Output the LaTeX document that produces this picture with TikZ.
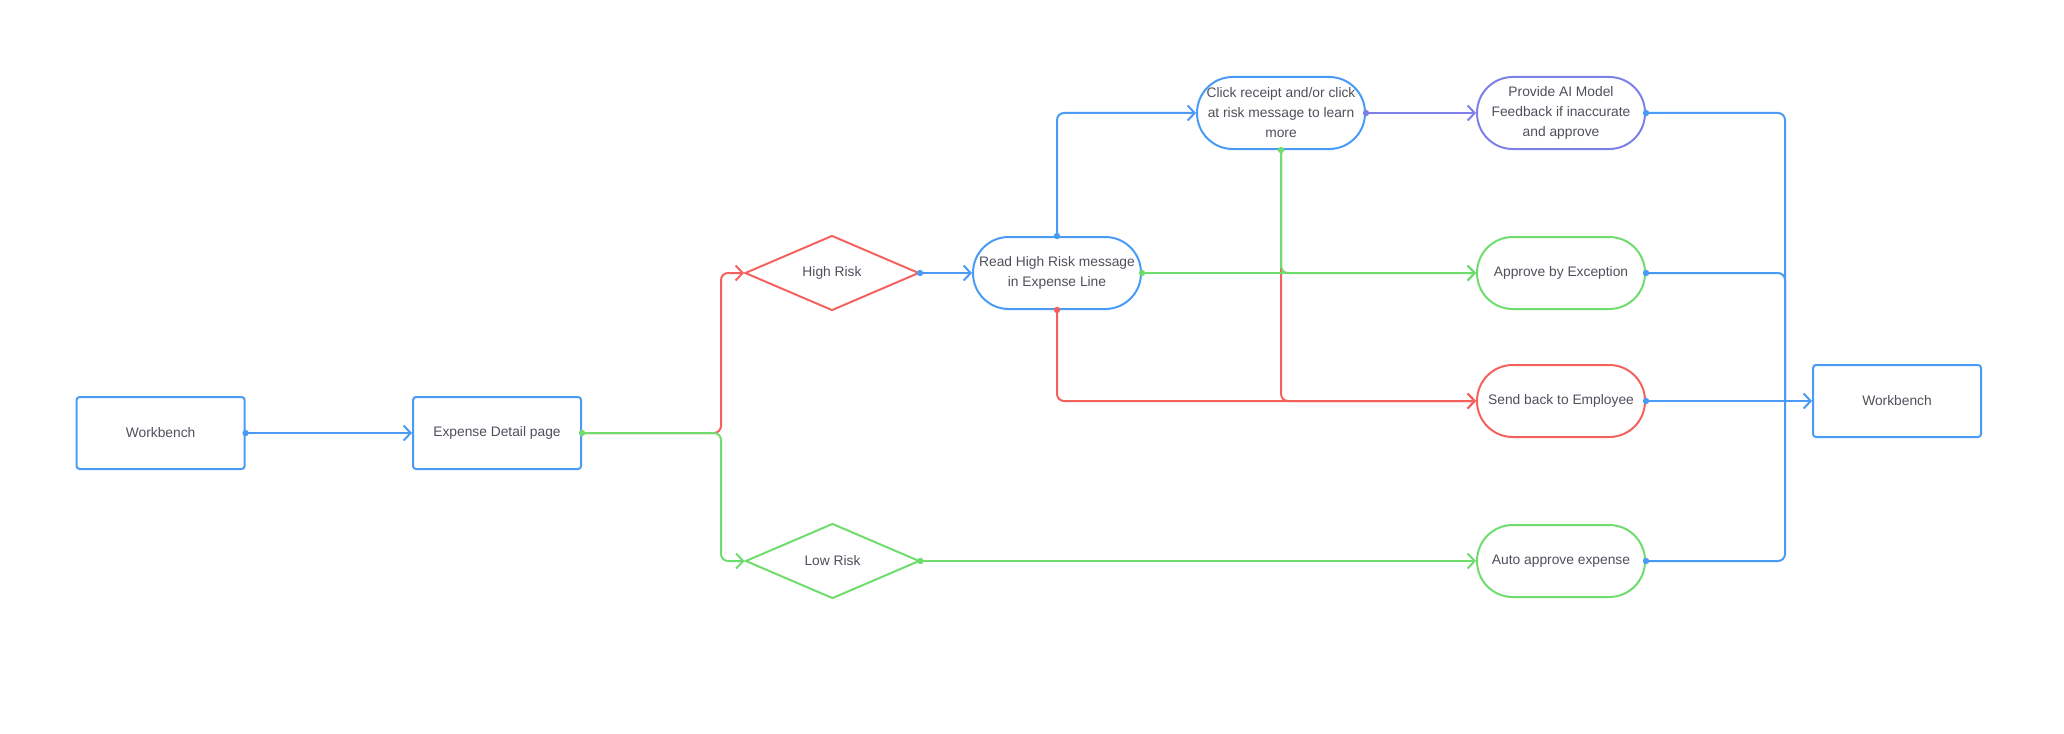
\documentclass[tikz,border=0pt]{standalone}
\usepackage{fontspec}
\setmainfont{Liberation Sans}
\usetikzlibrary{arrows.meta,shapes.geometric}
\definecolor{cblue}{RGB}{74,155,245}
\definecolor{cred}{RGB}{245,98,94}
\definecolor{cgreen}{RGB}{110,221,110}
\definecolor{cpurple}{RGB}{126,128,232}
\definecolor{ctext}{RGB}{78,80,90}
\tikzset{
  base/.style={line width=1pt, text=ctext, font=\fontsize{6.9}{10}\selectfont, align=center, inner sep=0pt},
  rectbox/.style={base, rectangle, rounded corners=1.5pt, minimum width=84pt, minimum height=36pt},
  pill/.style={base, rectangle, rounded corners=17.9pt, minimum width=84pt, minimum height=36pt},
  dia/.style={base, diamond, aspect=2.3, minimum width=87pt, minimum height=37.5pt},
  conn/.style={line width=1pt, rounded corners=3.5pt, -{Straight Barb[length=3.5pt,width=7.5pt,line width=1pt]}},
  plain/.style={line width=1pt, rounded corners=3.5pt},
}
\newcommand{\dotat}[2]{\fill[#1] (#2) circle (1.6pt);}
\begin{document}
\begin{tikzpicture}[x=0.5pt,y=-0.5pt]
\useasboundingbox (0,0) rectangle (2064,733);
% nodes
\node[rectbox, draw=cblue] (wb1) at (160.6,433) {Workbench};
\node[rectbox, draw=cblue] (exp) at (497,433) {Expense Detail page};
\node[dia, draw=cred] (hr) at (832,273) {High Risk};
\node[dia, draw=cgreen] (lr) at (832.5,561) {Low Risk};
\node[pill, draw=cblue] (read) at (1057,273) {Read High Risk message\\in Expense Line};
\node[pill, draw=cblue] (click) at (1281,113) {Click receipt and/or click\\at risk message to learn\\more};
\node[pill, draw=cpurple] (prov) at (1561,113) {Provide AI Model\\Feedback if inaccurate\\and approve};
\node[pill, draw=cgreen] (appr) at (1561,273) {Approve by Exception};
\node[pill, draw=cred] (send) at (1561,401) {Send back to Employee};
\node[pill, draw=cgreen] (auto) at (1561,561) {Auto approve expense};
\node[rectbox, draw=cblue] (wb2) at (1897,401) {Workbench};
\coordinate (split) at (721,433);
\coordinate (bus) at (1785,401);
% connectors
\draw[conn, cblue] (wb1.east) -- (exp.west);
\draw[conn, cred] (exp.east) -- (split) |- (hr.west);
\draw[conn, cgreen] (exp.east) -- (split) |- (lr.west);
\draw[conn, cblue] (hr.east) -- (read.west);
\draw[conn, cblue] (read.north) |- (click.west);
\draw[conn, cred] (read.south) |- (send.west);
\draw[conn, cred] (click.south) |- (send.west);
\draw[conn, cgreen] (read.east) -- (appr.west);
\draw[conn, cgreen] (click.south) |- (appr.west);
\draw[conn, cpurple] (click.east) -- (prov.west);
\draw[conn, cgreen] (lr.east) -- (auto.west);
\draw[plain, cblue] (prov.east) -| (bus);
\draw[plain, cblue] (appr.east) -| (bus);
\draw[plain, cblue] (auto.east) -| (bus);
\draw[conn, cblue] (send.east) -- (wb2.west);
% dots
\dotat{cblue}{wb1.east}
\dotat{cgreen}{exp.east}
\dotat{cblue}{hr.east}
\dotat{cblue}{read.north}
\dotat{cred}{read.south}
\dotat{cgreen}{read.east}
\dotat{cgreen}{click.south}
\dotat{cpurple}{click.east}
\dotat{cgreen}{lr.east}
\dotat{cblue}{prov.east}
\dotat{cblue}{appr.east}
\dotat{cblue}{send.east}
\dotat{cblue}{auto.east}
\end{tikzpicture}
\end{document}
